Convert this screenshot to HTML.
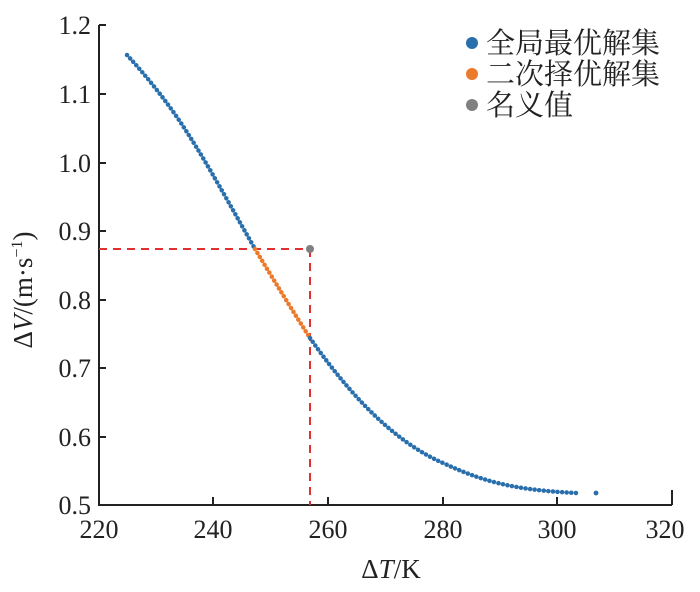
<!DOCTYPE html>
<html><head><meta charset="utf-8"><style>
body{margin:0;background:#fff}
svg text{font-family:"Liberation Serif","Noto Serif CJK SC",serif;fill:#222}
</style></head><body>
<svg width="700" height="587" viewBox="0 0 700 587" xmlns="http://www.w3.org/2000/svg">
<g stroke="#222" stroke-width="2" fill="none">
<path d="M99,25 V505 H672"/>
<path d="M99,25 H106 M99,94 H106 M99,163 H106 M99,231 H106 M99,300 H106 M99,368 H106 M99,437 H106"/>
<path d="M213,505 V497 M328,505 V497 M443,505 V497 M557,505 V497 M672,505 V490"/>
</g>
<g font-size="26" text-anchor="end">
<text x="91" y="34">1.2</text><text x="91" y="103">1.1</text><text x="91" y="172">1.0</text>
<text x="91" y="240">0.9</text><text x="91" y="309">0.8</text><text x="91" y="377">0.7</text>
<text x="91" y="446">0.6</text><text x="91" y="514">0.5</text>
</g>
<g font-size="26" text-anchor="middle">
<text x="99" y="538">220</text><text x="213" y="538">240</text><text x="328" y="538">260</text>
<text x="443" y="538">280</text><text x="557" y="538">300</text><text x="665" y="538">320</text>
<text x="391" y="578" font-size="27">Δ<tspan font-style="italic">T</tspan>/K</text>
</g>
<text transform="translate(32,290) rotate(-90)" font-size="27" text-anchor="middle">Δ<tspan font-style="italic">V</tspan>/(m·s<tspan font-size="16" dy="-10">−1</tspan><tspan dy="10">)</tspan></text>
<g stroke="#e03030" stroke-width="2" stroke-dasharray="8,6" fill="none">
<path d="M99,249 H310"/><path d="M310,249 V505"/>
</g>
<g fill="none" stroke-linecap="round" stroke-width="4.5" stroke-dasharray="0.1 4.5">
<path stroke="#2a6fad" d="M127,55 C150,80 172,108 190,137 C208,165 230,205 255,249"/>
<path stroke="#ec7a2b" d="M255,249 C275,282 292,310 310,338"/>
<path stroke="#2a6fad" d="M310,338 C345,388 390,440 443,463 C480,480 510,490 577,493"/>
</g>
<circle cx="596" cy="493" r="2.4" fill="#2a6fad"/>
<circle cx="310" cy="249" r="4" fill="#808080"/>
<circle cx="472" cy="43" r="6" fill="#2a6fad"/>
<circle cx="472" cy="74" r="6" fill="#ec7a2b"/>
<circle cx="472" cy="105" r="6" fill="#808080"/>
<g font-size="29" style="font-family:'Noto Serif CJK SC','Noto Sans CJK SC',serif">
<text x="486" y="53">全局最优解集</text>
<text x="486" y="84">二次择优解集</text>
<text x="486" y="115">名义值</text>
</g>
</svg>
</body></html>
